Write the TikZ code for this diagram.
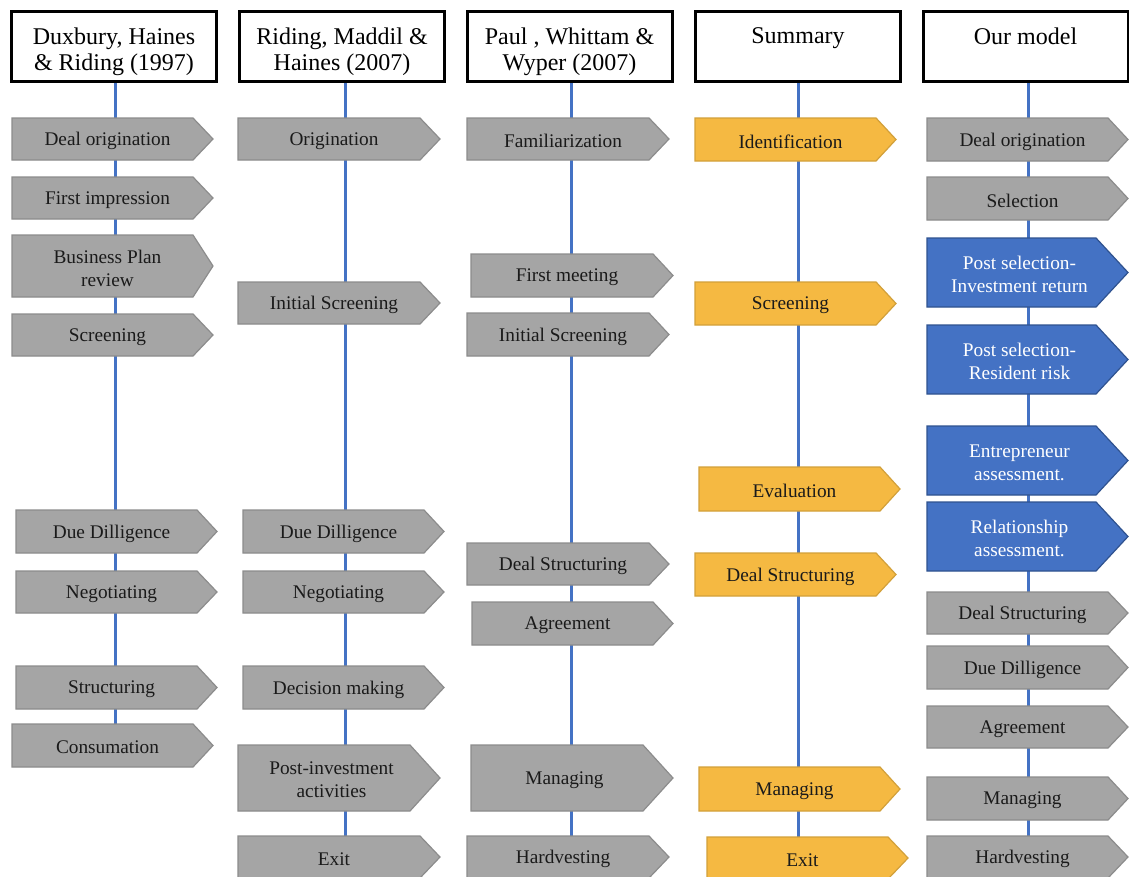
\documentclass[tikz,border=0pt]{standalone}
\usepackage{fontspec}
\setmainfont{Liberation Serif}
\definecolor{gfill}{HTML}{A5A5A5}
\definecolor{gline}{HTML}{8C8C8C}
\definecolor{ofill}{HTML}{F5B942}
\definecolor{oline}{HTML}{D2A03A}
\definecolor{bfill}{HTML}{4472C4}
\definecolor{bline}{HTML}{2F528F}
\definecolor{vblue}{HTML}{4472C4}
\definecolor{dtext}{HTML}{1A1A1A}
\tikzset{
  greyshape/.style={fill=gfill,draw=gline,line width=1.2pt,line join=miter},
  orangeshape/.style={fill=ofill,draw=oline,line width=1.2pt,line join=miter},
  blueshape/.style={fill=bfill,draw=bline,line width=1.2pt,line join=miter},
  stagetext/.style={inner sep=0pt,align=center,yshift=-2pt,font=\fontsize{19.3}{23}\selectfont},
  headbox/.style={draw=black,line width=3pt,fill=white,minimum width=205pt,minimum height=70pt,inner sep=0pt},
  headtext/.style={inner sep=0pt,anchor=north,align=center,text=black,font=\fontsize{24}{26.5}\selectfont},
  vline/.style={draw=vblue,line width=3pt}
}
% #1 name, #2 shape style, #3 text colour, #4 x1, #5 y1, #6 tip x, #7 y2, #8 tip depth, #9 text
\newcommand\stg[9]{%
  \path[#2] (#4,#5) -- ({#6-#8},#5) -- (#6,{(#5+#7)/2}) -- ({#6-#8},#7) -- (#4,#7) -- cycle;
  \node[stagetext,text=#3] (#1) at ({(#4+#6)/2-#8/4},{(#5+#7)/2}) {#9};
}
\begin{document}
\begin{tikzpicture}[x=1pt,y=-1pt]
\useasboundingbox[fill=white] (0,0) rectangle (1129,876);
% header boxes
\node[headbox] (h1) at (114,46.5) {};
\node[headbox] (h2) at (342,46.5) {};
\node[headbox] (h3) at (569.5,46.5) {};
\node[headbox] (h4) at (798,46.5) {};
\node[headbox] (h5) at (1025.5,46.5) {};
\node[headtext] (h1t) at (114,27.5) {Duxbury, Haines\\\& Riding (1997)};
\node[headtext] (h2t) at (342,27.5) {Riding, Maddil \&\\Haines (2007)};
\node[headtext] (h3t) at (569.5,27.5) {Paul , Whittam \&\\Wyper (2007)};
\node[headtext] (h4t) at (798,27.5) {Summary};
\node[headtext] (h5t) at (1025.5,27.5) {Our model};
% vertical timelines
\coordinate (b1) at (115.5,740);
\coordinate (b2) at (345,876);
\coordinate (b3) at (571,876);
\coordinate (b4) at (798,876);
\coordinate (b5) at (1028,876);
\foreach \i in {1,...,5} {\draw[vline] (h\i.south -| b\i) -- (b\i);}
% column 1
\stg{a1}{greyshape}{dtext}{12}{118}{213}{160}{20}{Deal origination}
\stg{a2}{greyshape}{dtext}{12}{177}{213}{219}{20}{First impression}
\stg{a3}{greyshape}{dtext}{12}{235}{213}{297}{20}{Business Plan\\review}
\stg{a4}{greyshape}{dtext}{12}{314}{213}{356}{20}{Screening}
\stg{a5}{greyshape}{dtext}{16}{510}{217}{553}{20}{Due Dilligence}
\stg{a6}{greyshape}{dtext}{16}{571}{217}{613}{20}{Negotiating}
\stg{a7}{greyshape}{dtext}{16}{666}{217}{709}{20}{Structuring}
\stg{a8}{greyshape}{dtext}{12}{724}{213}{767}{20}{Consumation}
% column 2
\stg{b1n}{greyshape}{dtext}{238}{118}{440}{160}{20}{Origination}
\stg{b2n}{greyshape}{dtext}{238}{282}{440}{324}{20}{Initial Screening}
\stg{b3n}{greyshape}{dtext}{243}{510}{444}{553}{20}{Due Dilligence}
\stg{b4n}{greyshape}{dtext}{243}{571}{444}{613}{20}{Negotiating}
\stg{b5n}{greyshape}{dtext}{243}{666}{444}{709}{20}{Decision making}
\stg{b6n}{greyshape}{dtext}{238}{745}{440}{811}{30}{Post-investment\\activities}
\stg{b7n}{greyshape}{dtext}{238}{836}{440}{878}{20}{Exit}
% column 3
\stg{c1}{greyshape}{dtext}{467}{118}{669}{160}{20}{Familiarization}
\stg{c2}{greyshape}{dtext}{471}{254}{673}{297}{20}{First meeting}
\stg{c3}{greyshape}{dtext}{467}{313}{669}{356}{20}{Initial Screening}
\stg{c4}{greyshape}{dtext}{467}{543}{669}{585}{20}{Deal Structuring}
\stg{c5}{greyshape}{dtext}{472}{602}{673}{645}{20}{Agreement}
\stg{c6}{greyshape}{dtext}{471}{745}{673}{811}{30}{Managing}
\stg{c7}{greyshape}{dtext}{467}{836}{669}{878}{20}{Hardvesting}
% column 4
\stg{d1}{orangeshape}{dtext}{695}{118}{896}{161}{20}{Identification}
\stg{d2}{orangeshape}{dtext}{695}{282}{896}{325}{20}{Screening}
\stg{d3}{orangeshape}{dtext}{699}{467}{900}{511}{20}{Evaluation}
\stg{d4}{orangeshape}{dtext}{695}{553}{896}{596}{20}{Deal Structuring}
\stg{d5}{orangeshape}{dtext}{699}{767}{900}{811}{20}{Managing}
\stg{d6}{orangeshape}{dtext}{707}{837}{908}{879}{20}{Exit}
% column 5
\stg{e1}{greyshape}{dtext}{927}{118}{1128}{161}{20}{Deal origination}
\stg{e2}{greyshape}{dtext}{927}{177}{1128}{220}{20}{Selection}
\stg{e3}{blueshape}{white}{927}{238}{1128}{307}{32}{Post selection-\\Investment return}
\stg{e4}{blueshape}{white}{927}{325}{1128}{394}{32}{Post selection-\\Resident risk}
\stg{e5}{blueshape}{white}{927}{426}{1128}{495}{32}{Entrepreneur\\assessment.}
\stg{e6}{blueshape}{white}{927}{502}{1128}{571}{32}{Relationship\\assessment.}
\stg{e7}{greyshape}{dtext}{927}{592}{1128}{634}{20}{Deal Structuring}
\stg{e8}{greyshape}{dtext}{927}{646}{1128}{689}{20}{Due Dilligence}
\stg{e9}{greyshape}{dtext}{927}{706}{1128}{748}{20}{Agreement}
\stg{e10}{greyshape}{dtext}{927}{777}{1128}{820}{20}{Managing}
\stg{e11}{greyshape}{dtext}{927}{836}{1128}{878}{20}{Hardvesting}
\end{tikzpicture}
\end{document}
